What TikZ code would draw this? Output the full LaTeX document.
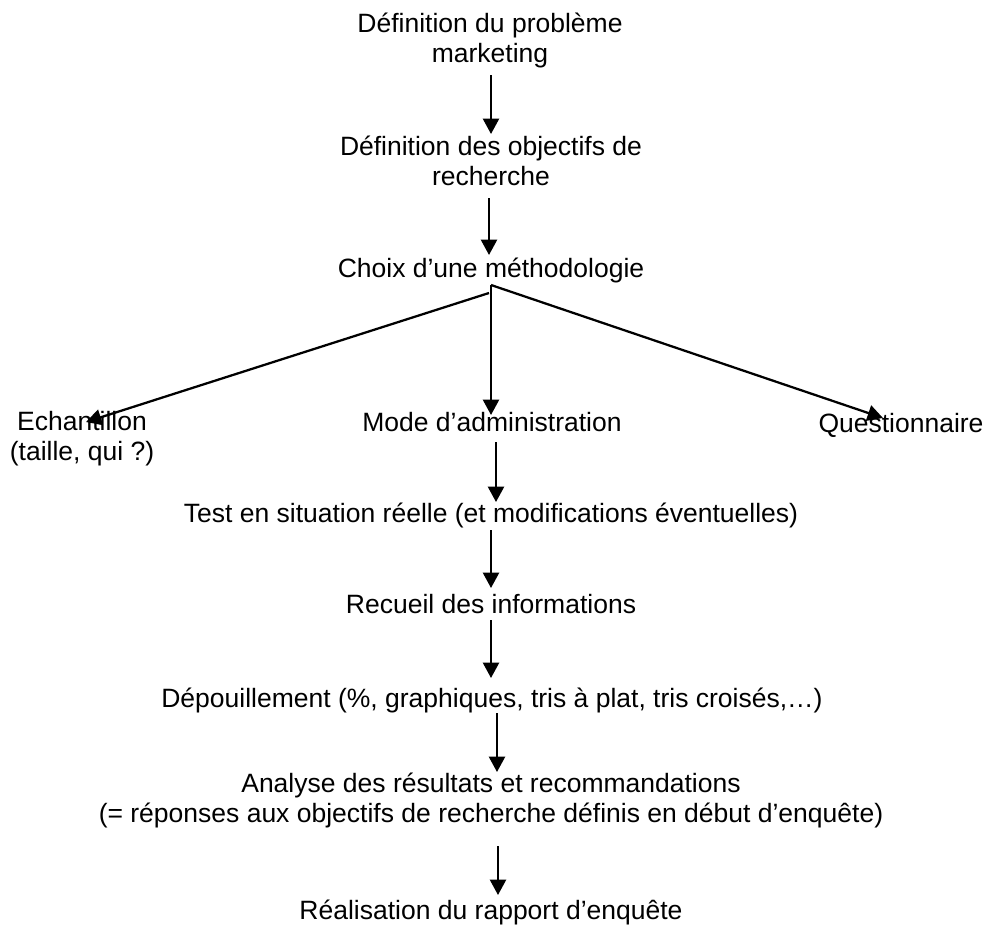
\documentclass[tikz,border=0pt]{standalone}
\usepackage{fontspec}
\setmainfont{Liberation Sans}
\usetikzlibrary{arrows.meta}
\begin{document}
\begin{tikzpicture}[x=0.75pt,y=-0.75pt,
  lbl/.style={anchor=base,align=center,inner sep=0pt,font=\fontsize{19.875pt}{22.5pt}\selectfont},
  arr/.style={line width=1.7pt,-{Triangle[width=12pt,length=11.5pt]}}]
\path[fill=white,use as bounding box] (0,0) rectangle (986,925);
\node[lbl] (n1) at (490,62) {Définition du problème\\marketing};
\node[lbl] (n2) at (491,185) {Définition des objectifs de\\recherche};
\node[lbl] (n3) at (491,277) {Choix d’une méthodologie};
\node[lbl] (ne) at (82,460) {Echantillon\\(taille, qui ?)};
\node[lbl] (nm) at (492,431) {Mode d’administration};
\node[lbl] (nq) at (901,432) {Questionnaire};
\node[lbl] (nt) at (491,522) {Test en situation réelle (et modifications éventuelles)};
\node[lbl] (nr) at (491,613) {Recueil des informations};
\node[lbl] (nd) at (492,707) {Dépouillement (\%, graphiques, tris à plat, tris croisés,…)};
\node[lbl] (na) at (491,822) {Analyse des résultats et recommandations\\(= réponses aux objectifs de recherche définis en début d’enquête)};
\node[lbl] (nf) at (491,919) {Réalisation du rapport d’enquête};
\coordinate (apex) at ([shift={(0,8)}]n3.base);
\coordinate (apexl) at ([shift={(-2,16)}]n3.base);
\draw[arr] ([shift={(1,13)}]n1.base) -- ([shift={(0,-51)}]n2.base);
\draw[arr] ([shift={(-2,13)}]n2.base) -- ([shift={(-2,-22)}]n3.base);
\draw[arr] (apexl) -- ([shift={(4,-38)}]ne.base);
\draw[arr] (apex) -- ([shift={(-1,-16)}]nm.base);
\draw[arr] (apex) -- ([shift={(-18,-14)}]nq.base);
\draw[arr] ([shift={(4,11)}]nm.base) -- ([shift={(5,-20)}]nt.base);
\draw[arr] ([shift={(0,8)}]nt.base) -- ([shift={(0,-25)}]nr.base);
\draw[arr] ([shift={(0,7)}]nr.base) -- ([shift={(-1,-29)}]nd.base);
\draw[arr] ([shift={(5,6)}]nd.base) -- ([shift={(6,-50)}]na.base);
\draw[arr] ([shift={(7,24)}]na.base) -- ([shift={(7,-24)}]nf.base);
\end{tikzpicture}
\end{document}
